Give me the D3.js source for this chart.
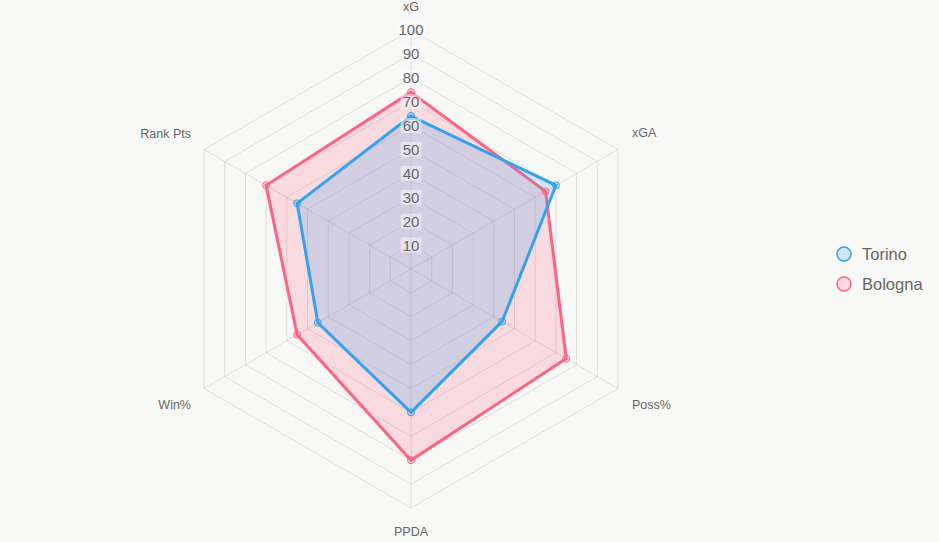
<!DOCTYPE html>
<html>
<head>
<meta charset="utf-8">
<script src="https://cdn.jsdelivr.net/npm/d3@7"></script>
<style>
  html, body { margin: 0; padding: 0; background: #f8f8f7; }
  svg { display: block; font-family: "Liberation Sans", Arial, sans-serif; }
</style>
</head>
<body>
<div id="chart"></div>
<script>
// Achsen und Werte (0–100)
const axes = ['xG', 'xGA', 'Poss%', 'PPDA', 'Win%', 'Rank Pts'];
const torino = [64, 70, 44, 60, 45, 55];
const bologna = [74, 65, 75, 80, 55, 70];
const ticks = [10, 20, 30, 40, 50, 60, 70, 80, 90, 100];
const teams = ['Torino', 'Bologna'];

const width = 939, height = 542;
const cx = 411, cy = 269, radius = 239;

const colors = {
  Torino: { line: 'rgb(54,162,235)', fill: 'rgba(54,162,235,0.2)' },
  Bologna: { line: 'rgb(255,99,132)', fill: 'rgba(255,99,132,0.2)' }
};

const svg = d3.select('#chart').append('svg')
  .attr('width', width)
  .attr('height', height);

const r = d3.scaleLinear().domain([0, 100]).range([0, radius]);
const angle = d3.scalePoint().domain(axes).range([0, 2 * Math.PI * (axes.length - 1) / axes.length]);

function pt(ax, v) {
  const a = angle(ax) - Math.PI / 2;
  return [cx + r(v) * Math.cos(a), cy + r(v) * Math.sin(a)];
}

const g = svg.append('g');

// Gitter
g.selectAll('polygon.grid')
  .data(ticks)
  .join('polygon')
  .attr('class', 'grid')
  .attr('points', t => axes.map(a => pt(a, t).join(',')).join(' '))
  .attr('fill', 'none')
  .attr('stroke', 'rgba(0,0,0,0.11)')
  .attr('stroke-width', 1);

g.selectAll('line.spoke')
  .data(axes)
  .join('line')
  .attr('class', 'spoke')
  .attr('x1', cx).attr('y1', cy)
  .attr('x2', a => pt(a, 100)[0])
  .attr('y2', a => pt(a, 100)[1])
  .attr('stroke', 'rgba(0,0,0,0.11)');

// Datensätze (Bologna zuerst, Torino oben)
const series = [
  { name: 'Bologna', values: bologna },
  { name: 'Torino', values: torino }
];

const line = d3.line().curve(d3.curveLinearClosed);

series.forEach(s => {
  const pts = axes.map((a, i) => pt(a, s.values[i]));
  g.append('path')
    .attr('d', line(pts))
    .attr('fill', colors[s.name].fill)
    .attr('stroke', colors[s.name].line)
    .attr('stroke-width', 3)
    .attr('stroke-linejoin', 'miter');
});
series.forEach(s => {
  const pts = axes.map((a, i) => pt(a, s.values[i]));
  g.selectAll(null)
    .data(pts)
    .join('circle')
    .attr('cx', d => d[0])
    .attr('cy', d => d[1])
    .attr('r', 3.5)
    .attr('fill', colors[s.name].fill)
    .attr('stroke', colors[s.name].line)
    .attr('stroke-width', 1);
});

// Tick-Beschriftungen mit Hintergrund
const tickG = g.selectAll('g.tick')
  .data(ticks)
  .join('g')
  .attr('class', 'tick')
  .attr('transform', t => `translate(${cx},${cy - r(t)})`);

tickG.append('text')
  .text(t => t)
  .attr('text-anchor', 'middle')
  .attr('dy', '0.36em')
  .attr('font-size', 15)
  .attr('fill', '#666');

tickG.each(function() {
  const grp = d3.select(this);
  const bb = grp.select('text').node().getBBox();
  grp.insert('rect', 'text')
    .attr('x', bb.x - 2)
    .attr('y', bb.y + 1)
    .attr('width', bb.width + 4)
    .attr('height', bb.height - 2)
    .attr('fill', 'rgba(255,255,255,0.45)');
});

// Achsenbeschriftungen
const labelPos = {
  'xG': [411, 11, 'middle'],
  'xGA': [632, 137, 'start'],
  'Poss%': [632, 409, 'start'],
  'PPDA': [411, 536, 'middle'],
  'Win%': [191, 409, 'end'],
  'Rank Pts': [191, 138, 'end']
};
g.selectAll('text.axis')
  .data(axes)
  .join('text')
  .attr('class', 'axis')
  .attr('x', a => labelPos[a][0])
  .attr('y', a => labelPos[a][1])
  .attr('text-anchor', a => labelPos[a][2])
  .attr('font-size', 12.5)
  .attr('fill', '#666')
  .text(a => a);

// Legende
const legend = svg.append('g').attr('transform', 'translate(844,254)');
const li = legend.selectAll('g')
  .data(teams)
  .join('g')
  .attr('transform', (d, i) => `translate(0,${i * 30})`);
li.append('circle')
  .attr('r', 7)
  .attr('fill', d => colors[d].fill)
  .attr('stroke', d => colors[d].line)
  .attr('stroke-width', 1.5);
li.append('text')
  .attr('x', 18)
  .attr('dy', '0.36em')
  .attr('font-size', 16.5)
  .attr('fill', '#666')
  .text(d => d);
</script>
</body>
</html>
